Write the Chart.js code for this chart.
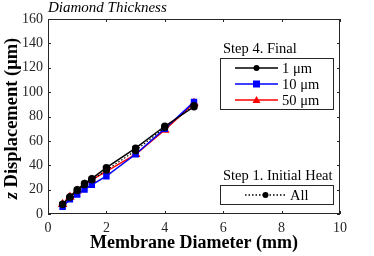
<!DOCTYPE html>
<html>
<head>
<meta charset="utf-8">
<script src="https://cdn.jsdelivr.net/npm/chart.js@4/dist/chart.umd.min.js"></script>
<style>
  html, body { margin: 0; padding: 0; background: #fff; }
  #wrap { width: 374px; height: 256px; }
</style>
</head>
<body>
<div id="wrap"><canvas id="c" width="374" height="256"></canvas></div>
<script>
// membrane diameters (mm)
const diameters = [0.5, 0.75, 1, 1.25, 1.5, 2, 3, 4, 5]

// z displacement (um)
const final1um = [8, 14, 20, 25, 29, 38, 54, 72, 88]
const final10um = [6, 12, 16, 20, 24, 31, 49, 70, 92]
const final50um = [8, 14, 19, 24, 28, 35, 49, 69, 91]
const initialAll = [8, 14, 19, 24, 28, 36, 52, 71, 89]

const xTicks = [0, 2, 4, 6, 8, 10]
const yTicks = [0, 20, 40, 60, 80, 100, 120, 140, 160]

const serif = "'Liberation Serif', 'DejaVu Serif', serif"

function pts(ys) {
  return diameters.map((x, i) => ({ x: x, y: ys[i] }))
}

// box, inside ticks, titles and the two legends (MATLAB look)
const decor = {
  id: "decor",
  afterDraw(chart) {
    const ctx = chart.ctx
    const a = chart.chartArea
    const xs = chart.scales.x
    const ys = chart.scales.y
    ctx.save()
    ctx.strokeStyle = "#262626"
    ctx.lineWidth = 1
    ctx.strokeRect(a.left + 0.5, a.top + 0.5, a.right - a.left - 1, a.bottom - a.top - 1)
    ctx.beginPath()
    xTicks.forEach(v => {
      const px = Math.round(xs.getPixelForValue(v)) + 0.5
      ctx.moveTo(px, a.bottom); ctx.lineTo(px, a.bottom - 3)
      ctx.moveTo(px, a.top); ctx.lineTo(px, a.top + 3)
    })
    yTicks.forEach(v => {
      const py = Math.round(ys.getPixelForValue(v)) + 0.5
      ctx.moveTo(a.left, py); ctx.lineTo(a.left + 3, py)
      ctx.moveTo(a.right, py); ctx.lineTo(a.right - 3, py)
    })
    ctx.stroke()

    // title
    ctx.fillStyle = "#000"
    ctx.textBaseline = "alphabetic"
    ctx.textAlign = "left"
    ctx.font = "italic 15px " + serif
    ctx.fillText("Diamond Thickness", a.left, 12)

    // x title
    ctx.textAlign = "center"
    ctx.font = "bold 18px " + serif
    ctx.fillText("Membrane Diameter (mm)", (a.left + a.right) / 2, 248)

    // y title
    ctx.save()
    ctx.translate(17, (a.top + a.bottom) / 2 + 2)
    ctx.rotate(-Math.PI / 2)
    const t1 = "z"
    const t2 = " Displacement (\u03bcm)"
    ctx.font = "bold italic 18.5px " + serif
    const w1 = ctx.measureText(t1).width
    ctx.font = "bold 18.5px " + serif
    const w2 = ctx.measureText(t2).width
    ctx.textAlign = "left"
    ctx.font = "bold italic 18.5px " + serif
    ctx.fillText(t1, -(w1 + w2) / 2, 0)
    ctx.font = "bold 18.5px " + serif
    ctx.fillText(t2, -(w1 + w2) / 2 + w1, 0)
    ctx.restore()

    // legends
    const ds = chart.data.datasets
    function marker(style, color, x, y) {
      ctx.fillStyle = color
      ctx.beginPath()
      if (style === "circle") {
        ctx.arc(x, y, 3, 0, Math.PI * 2)
      } else if (style === "rect") {
        ctx.rect(x - 3.5, y - 3.5, 7, 7)
      } else {
        ctx.moveTo(x, y - 4); ctx.lineTo(x + 4, y + 3); ctx.lineTo(x - 4, y + 3); ctx.closePath()
      }
      ctx.fill()
    }
    function legend(title, items, top, rows) {
      const left = 220, right = 333
      const h = rows * 16 + 3
      ctx.font = "14.5px " + serif
      ctx.fillStyle = "#000"
      ctx.textAlign = "left"
      ctx.fillText(title, 223, top - 5)
      ctx.fillStyle = "#fff"
      ctx.fillRect(left, top, right - left, h)
      ctx.strokeStyle = "#262626"
      ctx.lineWidth = 1
      ctx.strokeRect(left + 0.5, top + 0.5, right - left, h)
      items.forEach((it, i) => {
        const y = top + 10 + i * 16
        ctx.strokeStyle = it.color
        ctx.lineWidth = 1.5
        ctx.setLineDash(it.dash || [])
        ctx.beginPath()
        ctx.moveTo(it.x0, y); ctx.lineTo(it.x1, y)
        ctx.stroke()
        ctx.setLineDash([])
        marker(it.style, it.color, (it.x0 + it.x1) / 2, y)
        ctx.fillStyle = "#000"
        ctx.font = "14.5px " + serif
        ctx.fillText(it.label, it.x1 + 4, y + 5)
      })
    }
    legend("Step 4. Final", [
      { label: "1 \u03bcm", color: ds[1].borderColor, style: "circle", x0: 235, x1: 278 },
      { label: "10 \u03bcm", color: ds[2].borderColor, style: "rect", x0: 235, x1: 278 },
      { label: "50 \u03bcm", color: ds[3].borderColor, style: "triangle", x0: 235, x1: 278 }
    ], 58, 3)
    legend("Step 1. Initial Heat", [
      { label: "All", color: "#000", style: "circle", x0: 245, x1: 286, dash: [1.5, 2] }
    ], 185, 1)
    ctx.restore()
  }
}

new Chart(document.getElementById("c"), {
  type: "line",
  data: {
    datasets: [
      { label: "All", data: pts(initialAll), borderColor: "#000", backgroundColor: "#000",
        borderWidth: 1.2, borderDash: [1.5, 2], pointStyle: "circle", pointRadius: 3 },
      { label: "1 um", data: pts(final1um), borderColor: "#000", backgroundColor: "#000",
        borderWidth: 1.5, pointStyle: "circle", pointRadius: 3 },
      { label: "10 um", data: pts(final10um), borderColor: "#0000ff", backgroundColor: "#0000ff",
        borderWidth: 1.5, pointStyle: "rect", pointRadius: 3.5 },
      { label: "50 um", data: pts(final50um), borderColor: "#ff0000", backgroundColor: "#ff0000",
        borderWidth: 1.5, pointStyle: "triangle", pointRadius: 4 }
    ]
  },
  options: {
    responsive: false,
    animation: false,
    layout: { padding: { top: 19, right: 34, left: 0, bottom: 0 } },
    plugins: { legend: { display: false }, tooltip: { enabled: false } },
    elements: { line: { tension: 0 }, point: { borderWidth: 0 } },
    scales: {
      x: {
        type: "linear", min: 0, max: 10,
        afterBuildTicks: s => { s.ticks = xTicks.map(v => ({ value: v })) },
        afterFit: s => { s.height = 42 },
        grid: { display: false, drawTicks: false }, border: { display: false },
        ticks: { color: "#262626", padding: 6, font: { family: serif, size: 14 } }
      },
      y: {
        type: "linear", min: 0, max: 160,
        afterBuildTicks: s => { s.ticks = yTicks.map(v => ({ value: v })) },
        afterFit: s => { s.width = 48 },
        grid: { display: false, drawTicks: false }, border: { display: false },
        ticks: { color: "#262626", padding: 5, font: { family: serif, size: 14 } }
      }
    }
  },
  plugins: [decor]
})
</script>
</body>
</html>
